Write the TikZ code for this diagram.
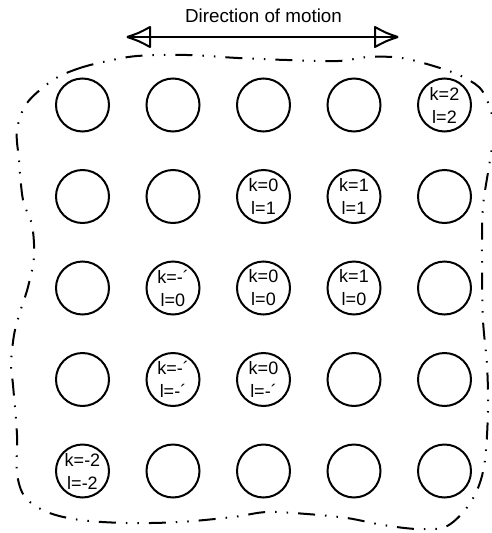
\documentclass[tikz,border=0pt]{standalone}
\usepackage{fontspec}
\setmainfont{Liberation Sans}
\usetikzlibrary{arrows.meta}
\begin{document}
\begin{tikzpicture}[x=1pt,y=-1pt,
  ball/.style={circle,draw,line width=2pt,minimum size=53pt,inner sep=0pt,align=center,
    font=\fontsize{18}{23}\selectfont},
  boundary/.style={line width=2pt,dash pattern=on 17pt off 10pt on 1.5pt off 10pt on 1.5pt off 10pt},
  headstyle/.style={line width=2pt,line join=round}]
\useasboundingbox (0,0) rectangle (491,533);
\fill[white] (0,0) rectangle (491,533);
% title and arrow
\node[anchor=base,font=\fontsize{18.8}{22}\selectfont] (title) at (263.5,22) {Direction of motion};
\coordinate (L) at (127,37);
\coordinate (R) at (398,37);
\draw[line width=2pt] (L) -- (R);
\draw[headstyle] (L) .. controls (139,33) .. (150,27) -- (150,47) .. controls (139,41) .. (L);
\draw[headstyle] (R) .. controls (386,33) .. (375,27) -- (375,47) .. controls (386,41) .. (R);
% boundary
\draw[boundary] plot[smooth cycle,tension=0.55] coordinates {
 (53,80) (77,69) (103,62) (137,56) (187,55) (238,58) (287,60) (338,61) (368,57) (402,58)
 (440,68) (465,78) (483,92) (494,125) (490,160) (483,207) (482,260) (483,320) (487,365)
 (488,410) (485,460) (478,488) (465,510) (445,527) (417,529) (383,525) (347,518) (307,514)
 (267,512) (233,517) (180,522) (127,523) (80,520) (47,512) (25,497) (17,473) (17,435)
 (13,385) (11,365) (14,335) (20,312) (28,287) (34,257) (32,225) (23,200) (19,160) (17,130)
 (27,103)};
% circles
\foreach \r/\y in {1/105,2/196.5,3/288,4/379.5,5/471}{
  \foreach \c/\x in {1/82.5,2/173,3/263.5,4/354,5/444.5}{
    \coordinate (p\r\c) at (\x,\y);
  }
}
\node[ball] (b11) at (p11) {};
\node[ball] (b12) at (p12) {};
\node[ball] (b13) at (p13) {};
\node[ball] (b14) at (p14) {};
\node[ball] (b15) at (p15) {k=2\\l=2};
\node[ball] (b21) at (p21) {};
\node[ball] (b22) at (p22) {};
\node[ball] (b23) at (p23) {k=0\\l=1};
\node[ball] (b24) at (p24) {k=1\\l=1};
\node[ball] (b25) at (p25) {};
\node[ball] (b31) at (p31) {};
\node[ball] (b32) at (p32) {k=-´\\l=0};
\node[ball] (b33) at (p33) {k=0\\l=0};
\node[ball] (b34) at (p34) {k=1\\l=0};
\node[ball] (b35) at (p35) {};
\node[ball] (b41) at (p41) {};
\node[ball] (b42) at (p42) {k=-´\\l=-´};
\node[ball] (b43) at (p43) {k=0\\l=-´};
\node[ball] (b44) at (p44) {};
\node[ball] (b45) at (p45) {};
\node[ball] (b51) at (p51) {k=-2\\l=-2};
\node[ball] (b52) at (p52) {};
\node[ball] (b53) at (p53) {};
\node[ball] (b54) at (p54) {};
\node[ball] (b55) at (p55) {};
\end{tikzpicture}
\end{document}
